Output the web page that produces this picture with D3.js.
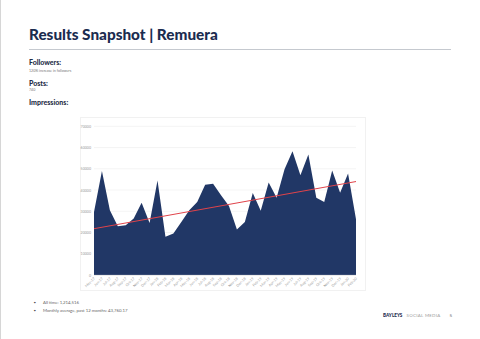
<!DOCTYPE html>
<html>
<head>
<meta charset="utf-8">
<script src="https://cdn.jsdelivr.net/npm/d3@7"></script>
<style>
  html, body { margin: 0; padding: 0; background: #fff; }
  svg { display: block; }
</style>
</head>
<body>
<svg id="chart" width="480" height="339"></svg>
<script>
// ---- data ----
const months = ["May-17","Jun-17","Jul-17","Aug-17","Sep-17","Oct-17","Nov-17","Dec-17",
  "Jan-18","Feb-18","Mar-18","Apr-18","May-18","Jun-18","Jul-18","Aug-18","Sep-18","Oct-18","Nov-18","Dec-18",
  "Jan-19","Feb-19","Mar-19","Apr-19","May-19","Jun-19","Jul-19","Aug-19","Sep-19","Oct-19","Nov-19","Dec-19",
  "Jan-20","Feb-20"];
const impressions = [29700,48900,30500,23000,23400,26600,34000,24500,44500,18000,19500,25000,
  30500,34400,42500,43000,37500,32500,21400,25000,38600,30200,43500,36400,49800,58300,
  46900,56700,36400,34400,49200,38750,47800,26250];
const trendEnds = [21800, 44000];
const yTicks = [0,10000,20000,30000,40000,50000,60000,70000];
const bullets = ["All time: 1,214,516", "Monthly average, past 12 months: 43,760.17"];

const navy = "#1b2c4f";
const areaFill = "#213766";
const svg = d3.select("#chart");

// page edge
svg.append("line").attr("x1",0.5).attr("x2",0.5).attr("y1",0).attr("y2",339)
  .attr("stroke","#d6d6d6").attr("stroke-width",1);

// title
svg.append("text").attr("x",29).attr("y",40).text("Results Snapshot | Remuera")
  .attr("font-family","Lato, 'Open Sans', sans-serif").attr("font-weight",900)
  .attr("font-size",15.3).attr("fill",navy);
svg.append("line").attr("x1",29).attr("x2",451).attr("y1",49.5).attr("y2",49.5)
  .attr("stroke","#c5c9cf").attr("stroke-width",1);

function heading(txt, y) {
  svg.append("text").attr("x",29).attr("y",y).text(txt)
    .attr("font-family","Lato, sans-serif").attr("font-weight",900)
    .attr("font-size",7.0).attr("fill","#232c45");
}
function small(txt, y) {
  svg.append("text").attr("x",29).attr("y",y).text(txt)
    .attr("font-family","Lato, sans-serif").attr("font-size",3.6).attr("fill","#777");
}
heading("Followers:", 65.2);
small("120% increase in followers", 71.6);
heading("Posts:", 86);
small("740", 91);
heading("Impressions:", 105.2);

// chart card
svg.append("rect").attr("x",80.5).attr("y",117.5).attr("width",285).attr("height",173)
  .attr("fill","#fff").attr("stroke","#f1f1f1").attr("stroke-width",1);

const x = d3.scalePoint().domain(d3.range(months.length)).range([94, 356]);
const y = d3.scaleLinear().domain([0,70000]).range([275, 126.3]);

// gridlines
svg.append("g").selectAll("line").data(yTicks.slice(1)).join("line")
  .attr("x1",94).attr("x2",356)
  .attr("y1",d=>y(d)).attr("y2",d=>y(d))
  .attr("stroke","#ededed").attr("stroke-width",0.6);

// y axis labels
const yAxis = d3.axisLeft(y).tickValues(yTicks).tickSize(0).tickPadding(3)
  .tickFormat(d3.format("d"));
const gy = svg.append("g").attr("transform","translate(94,0)").call(yAxis);
gy.select(".domain").remove();
gy.selectAll("text").attr("font-family","Lato, sans-serif").attr("font-size",3.6).attr("fill","#9a9a9a");

// area
const area = d3.area().x((d,i)=>x(i)).y0(y(0)).y1(d=>y(d));
svg.append("path").datum(impressions).attr("d",area).attr("fill",areaFill);

// baseline
svg.append("line").attr("x1",94).attr("x2",356).attr("y1",y(0)+0.3).attr("y2",y(0)+0.3)
  .attr("stroke","#d9d9d9").attr("stroke-width",0.6);

// trend line
svg.append("line")
  .attr("x1",x(0)).attr("y1",y(trendEnds[0]))
  .attr("x2",x(months.length-1)).attr("y2",y(trendEnds[1]))
  .attr("stroke","#e0434a").attr("stroke-width",1);

// x axis labels
const xAxis = d3.axisBottom(x).tickSize(0).tickPadding(0).tickFormat(i=>months[i]);
const gx = svg.append("g").attr("transform",`translate(0,${y(0)+3})`).call(xAxis);
gx.select(".domain").remove();
gx.selectAll("text")
  .attr("font-family","Lato, sans-serif").attr("font-size",3.6).attr("fill","#a0a0a0")
  .attr("text-anchor","end").attr("dy","0.3em")
  .attr("transform","rotate(-45)");

// bullets
bullets.forEach((b,i)=>{
  const yy = 304 + i*7.6;
  svg.append("text").attr("x",33.5).attr("y",yy).text("•")
    .attr("font-family","Lato, sans-serif").attr("font-size",4.5).attr("fill","#555");
  svg.append("text").attr("x",43).attr("y",yy).text(b)
    .attr("font-family","Lato, sans-serif").attr("font-size",4.3).attr("fill","#666");
});

// footer
svg.append("text").attr("x",383).attr("y",316.5).text("BAYLEYS")
  .attr("font-family","Lato, sans-serif").attr("font-weight",900).attr("font-size",4.6)
  .attr("fill","#1b2c4f");
svg.append("text").attr("x",406.5).attr("y",316.5).text("SOCIAL MEDIA")
  .attr("font-family","Lato, sans-serif").attr("font-size",4.4).attr("letter-spacing",0.3)
  .attr("fill","#9a9a9a");
svg.append("text").attr("x",449.5).attr("y",316.5).text("5")
  .attr("font-family","Lato, sans-serif").attr("font-size",4.6).attr("fill","#666");
</script>
</body>
</html>
